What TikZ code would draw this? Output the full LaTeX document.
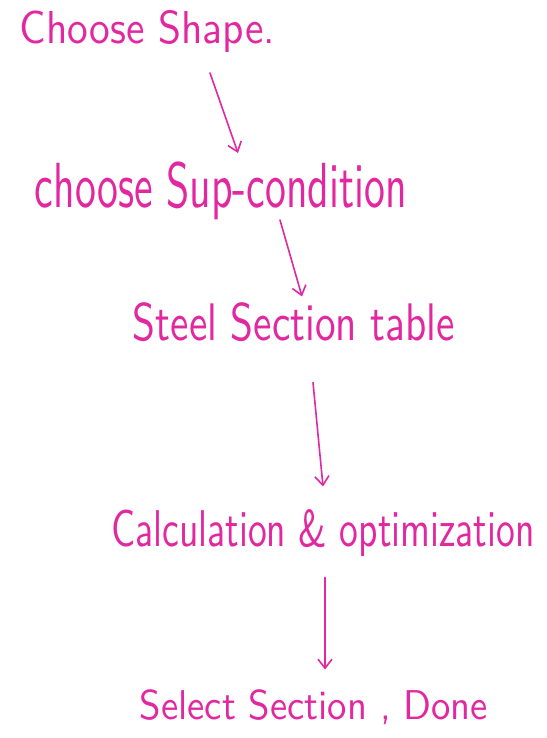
\documentclass[tikz,border=0pt]{standalone}
\usepackage{graphicx}
\usepackage{xcolor}
\usetikzlibrary{positioning}
\usetikzlibrary{arrows.meta}
\definecolor{inkpink}{RGB}{226,40,160}
% stretch a handwritten line to its measured box (width, total height)
\newcommand{\handline}[3]{\resizebox*{#1pt}{#2pt}{\sffamily #3}}
\tikzset {
  x=1pt, y=-1pt,
  % handwritten step labels
  stepnote/.style = {inner sep=0pt, outer sep=0pt, text=inkpink},
  % hand-drawn arrows between steps
  flow/.style={inkpink, line width=1.6pt, line cap=round,
    -{Straight Barb[length=9pt, width=14pt, line width=1.6pt]}},
}
\begin{document}
\begin{tikzpicture}
        \useasboundingbox[fill=white] (0,0) rectangle (546,738);

        \node[stepnote] (shape) at (147.5, 31) {\handline{255}{42}{Choose Shape.}};
        \node[stepnote] (sup) at (221, 191) {\handline{372}{58}{choose Sup-condition}};
        \node[stepnote] (table) at (294, 322) {\handline{322}{39}{Steel Section table}};
        \node[stepnote] (calc) at (323, 533) {\handline{423}{47}{Calculation \& optimization}};
        \node[stepnote] (done) at (314, 707) {\handline{348}{35}{Select Section , Done}};

        \draw [flow] ([shift={(62.5,21)}]shape.south) -- ([shift={(17,-9)}]sup.north);
        \draw [flow] ([shift={(59,0)}]sup.south) -- ([shift={(8,-6)}]table.north);
        \draw [flow] ([shift={(19,41)}]table.south) -- ([shift={(0,-23)}]calc.north);
        \draw [flow] ([shift={(2,21)}]calc.south) -- ([shift={(11,-20)}]done.north);
      \end{tikzpicture}
\end{document}
